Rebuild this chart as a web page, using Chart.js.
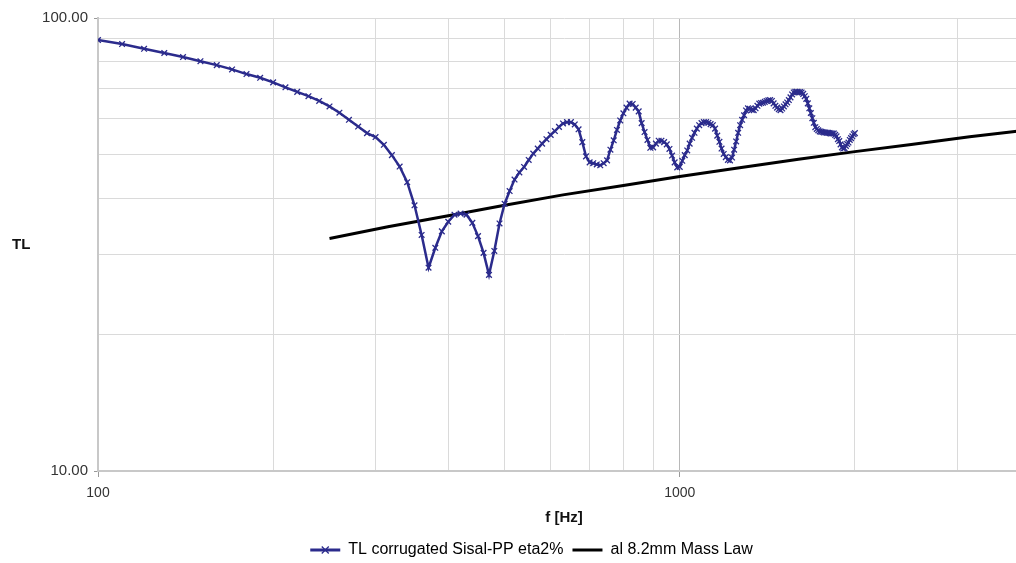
<!DOCTYPE html>
<html>
<head>
<meta charset="utf-8">
<script src="https://cdn.jsdelivr.net/npm/chart.js@4.4.1/dist/chart.umd.min.js"></script>
<style>
  html, body { margin: 0; padding: 0; background: #fff; overflow: hidden; }
  #wrap { width: 1038px; height: 563px; }
</style>
</head>
<body>
<div id="wrap"><canvas id="tlChart" width="1038" height="563"></canvas></div>
<script>
// frequency steps of the measured curve (Hz)
const freqs = [
  100,110,120,130,140,150,160,170,180,190,200,210,220,230,240,250,260,270,280,290,
  300,310,320,330,340,350,360,370,380,390,400,410,420,430,440,450,460,470,480,490,
  500,510,520,530,540,550,560,570,580,590,600,610,620,630,640,650,660,670,680,690,
  700,710,720,730,740,750,760,770,780,790,800,810,820,830,840,850,860,870,880,890,
  900,910,920,930,940,950,960,970,980,990,1000,1010,1020,1030,1040,1050,1060,1070,1080,1090,
  1100,1110,1120,1130,1140,1150,1160,1170,1180,1190,1200,1210,1220,1230,1240,1250,1260,1270,1280,1290,
  1300,1310,1320,1330,1340,1350,1360,1370,1380,1390,1400,1410,1420,1430,1440,1450,1460,1470,1480,1490,
  1500,1510,1520,1530,1540,1550,1560,1570,1580,1590,1600,1610,1620,1630,1640,1650,1660,1670,1680,1690,
  1700,1710,1720,1730,1740,1750,1760,1770,1780,1790,1800,1810,1820,1830,1840,1850,1860,1870,1880,1890,
  1900,1910,1920,1930,1940,1950,1960,1970,1980,1990,2000
];

// TL corrugated Sisal-PP eta2% (dB)
const tlSisal = [
  89.4,87.6,85.5,83.7,82.0,80.3,78.7,77.0,75.2,73.8,72.1,70.3,68.7,67.2,65.6,63.8,61.8,59.6,57.6,55.7,
  54.6,52.5,49.8,47.0,43.4,38.6,33.2,28.1,31.1,33.8,35.5,36.8,37.0,36.8,35.3,33.0,30.3,27.1,30.6,35.2,
  38.9,41.5,44.0,45.6,46.9,48.6,50.2,51.5,52.8,54.0,55.2,56.3,57.5,58.5,58.9,58.9,58.2,56.8,53.2,49.5,
  48.0,47.8,47.5,47.3,47.8,48.5,51.2,53.7,56.6,59.4,61.6,63.4,64.7,64.6,63.4,62.2,58.6,56.0,53.8,51.7,
  51.8,52.8,53.6,53.6,53.2,52.6,51.4,49.7,48.0,46.8,46.9,48.4,49.8,51.0,52.8,54.4,55.8,57.0,58.0,58.6,
  58.9,58.9,58.7,58.3,58.0,57.0,55.0,53.3,51.5,50.1,49.3,48.6,48.5,49.2,51.2,53.4,55.8,58.0,59.6,61.0,
  62.5,63.2,63.0,62.7,62.6,63.2,64.0,64.7,64.9,65.0,65.3,65.6,65.8,65.9,65.6,64.8,64.0,63.4,62.9,62.6,
  63.1,63.8,64.5,65.1,65.9,66.8,67.8,68.5,68.7,68.7,68.6,68.6,68.5,68.0,67.2,66.3,64.8,63.2,61.7,60.1,
  58.7,57.4,56.9,56.5,56.2,56.1,56.0,55.9,55.9,55.8,55.8,55.7,55.6,55.6,55.6,55.2,54.8,54.0,53.5,52.6,
  51.8,51.5,51.6,52.2,52.7,53.1,53.8,54.3,54.8,55.4,55.7
];

// al 8.2mm Mass Law
const massFreqs = [250,315,400,500,630,800,1000,1250,1600,2000,2500,3150,4000];
const massTL = [32.6,34.6,36.6,38.6,40.7,42.7,44.7,46.6,48.8,50.7,52.6,54.7,56.7];

const xGrid = [100,200,300,400,500,600,700,800,900,1000,2000,3000,4000];
const xLabels = [100,1000];
const yGrid = [10,20,30,40,50,60,70,80,90,100];
const yLabels = [10,100];

const seriesNames = ['TL corrugated Sisal-PP eta2%', 'al 8.2mm Mass Law'];
const navy = '#2b2b8c';

// "TL" sits horizontally left of the plot, so it is drawn by hand
const sideTitle = {
    id: 'sideTitle',
    afterDraw(chart) {
        const ctx = chart.ctx;
        ctx.save();
        ctx.font = 'bold 15px "Liberation Sans", Arial, sans-serif';
        ctx.fillStyle = '#111';
        ctx.textAlign = 'left';
        ctx.textBaseline = 'middle';
        ctx.fillText('TL', 12, 245);
        // little cross on the first legend line
        const box = chart.legend.legendHitBoxes[0];
        if (box) {
            const cx = box.left + 15, cy = box.top + box.height / 2;
            ctx.strokeStyle = navy;
            ctx.lineWidth = 1.3;
            ctx.beginPath();
            ctx.moveTo(cx - 3.5, cy - 3.5); ctx.lineTo(cx + 3.5, cy + 3.5);
            ctx.moveTo(cx - 3.5, cy + 3.5); ctx.lineTo(cx + 3.5, cy - 3.5);
            ctx.stroke();
        }
        ctx.restore();
    }
};

Chart.defaults.font.family = '"Liberation Sans", Arial, sans-serif';
Chart.defaults.color = '#222';

const ctx = document.getElementById('tlChart').getContext('2d');
const tlChart = new Chart(ctx, {
    type: 'line',
    data: {
        datasets: [
            {
                label: seriesNames[0],
                data: freqs.map((f, i) => ({ x: f, y: tlSisal[i] })),
                borderColor: navy,
                backgroundColor: navy,
                borderWidth: 2.5,
                pointStyle: 'crossRot',
                pointRadius: 4,
                pointBorderWidth: 1.3,
                pointBorderColor: navy,
                tension: 0
            },
            {
                label: seriesNames[1],
                data: massFreqs.map((f, i) => ({ x: f, y: massTL[i] })),
                borderColor: '#000',
                backgroundColor: '#000',
                borderWidth: 3,
                pointRadius: 0,
                tension: 0
            }
        ]
    },
    options: {
        responsive: false,
        animation: false,
        layout: { padding: { left: 26, top: 18, right: 1, bottom: -5 } },
        plugins: {
            tooltip: { enabled: false },
            legend: {
                position: 'bottom',
                labels: {
                    font: { size: 16 },
                    color: '#222',
                    usePointStyle: true,
                    pointStyleWidth: 30,
                    boxHeight: 3,
                    padding: 9,
                    generateLabels(chart) {
                        return chart.data.datasets.map((ds, i) => ({
                            text: ds.label,
                            pointStyle: 'line',
                            strokeStyle: ds.borderColor,
                            fillStyle: ds.borderColor,
                            lineWidth: 3,
                            datasetIndex: i
                        }));
                    }
                }
            }
        },
        scales: {
            x: {
                type: 'logarithmic',
                min: 100,
                max: 4000,
                afterBuildTicks(scale) {
                    scale.ticks = xGrid.map(v => ({ value: v }));
                },
                afterFit(scale) { scale.height = 62; },
                ticks: {
                    autoSkip: false,
                    maxRotation: 0,
                    padding: 8,
                    font: { size: 14 },
                    color: '#333',
                    callback: v => xLabels.includes(v) ? String(v) : ''
                },
                grid: {
                    color: c => c.tick && c.tick.value === 1000 ? '#b8b8b8' : '#dadada',
                    lineWidth: 1,
                    tickLength: 6,
                    tickColor: c => c.tick && xLabels.includes(c.tick.value) ? '#999' : 'rgba(0,0,0,0)'
                },
                border: { color: '#c8c8c8', width: 2 },
                title: {
                    display: true,
                    text: 'f [Hz]',
                    font: { size: 15, weight: 'bold' },
                    color: '#111',
                    padding: { top: 4, bottom: 6 }
                }
            },
            y: {
                type: 'logarithmic',
                min: 10,
                max: 100,
                afterBuildTicks(scale) {
                    scale.ticks = yGrid.map(v => ({ value: v }));
                },
                afterFit(scale) { scale.width = 72; },
                ticks: {
                    autoSkip: false,
                    padding: 6,
                    font: { size: 15 },
                    color: '#333',
                    callback: v => yLabels.includes(v) ? v.toFixed(2) : ''
                },
                grid: {
                    color: '#dadada',
                    lineWidth: 1,
                    tickLength: 4,
                    tickColor: c => c.tick && yLabels.includes(c.tick.value) ? '#999' : 'rgba(0,0,0,0)'
                },
                border: { color: '#c8c8c8', width: 2 }
            }
        }
    },
    plugins: [sideTitle]
});
</script>
</body>
</html>
